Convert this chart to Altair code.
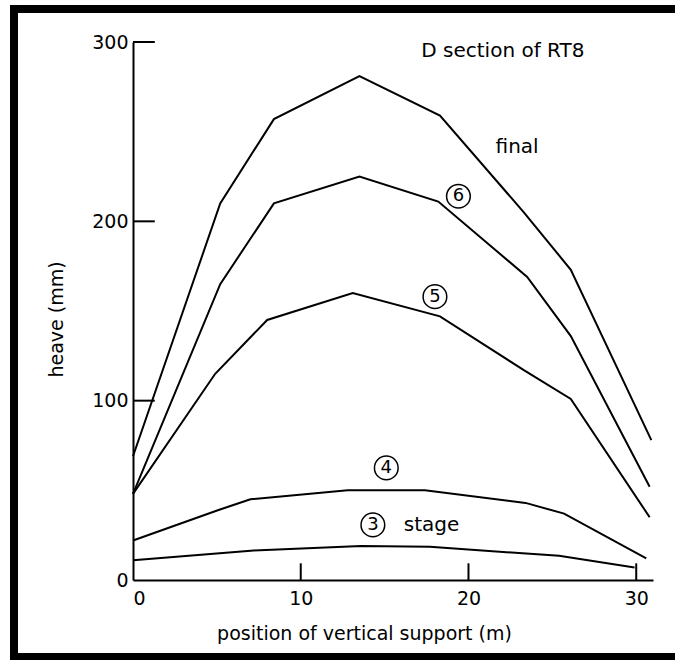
import altair as alt
import pandas as pd

# positions (m) and heave (mm) for each stage
x_final = [0.0, 5.2, 8.4, 13.5, 18.3, 23.3, 26.1, 30.9]
y_final = [69, 210, 257, 281, 259, 205, 173, 78]
x_s6 = [0.0, 5.2, 8.4, 13.5, 18.2, 23.5, 26.1, 30.8]
y_s6 = [48, 165, 210, 225, 211, 169, 136, 52]
x_s5 = [0.0, 4.9, 8.0, 13.1, 18.3, 23.3, 26.1, 30.8]
y_s5 = [48, 115, 145, 160, 147, 117, 101, 35]
x_s4 = [0.0, 5.1, 7.0, 12.8, 17.4, 23.4, 25.7, 30.6]
y_s4 = [22, 39, 45, 50, 50, 43, 37, 12]
x_s3 = [0.0, 7.2, 13.6, 17.7, 25.4, 29.9]
y_s3 = [11, 16.5, 19, 18.5, 13.5, 7]

series = [("final", x_final, y_final), ("6", x_s6, y_s6), ("5", x_s5, y_s5),
          ("4", x_s4, y_s4), ("3", x_s3, y_s3)]
rows = []
for name, xs, ys in series:
    for i, (a, b) in enumerate(zip(xs, ys)):
        rows.append({"stage": name, "pos": a, "heave": b, "order": i})
df = pd.DataFrame(rows)

# circled stage labels
circ_x = [19.4, 18.0, 15.1, 14.3]
circ_y = [214, 158, 62.5, 30.7]
circ_t = ["6", "5", "4", "3"]
circ_df = pd.DataFrame({"x": circ_x, "y": circ_y, "t": circ_t})

# plain text labels
lab_x = [22.05, 22.9, 17.8]
lab_y = [295, 241.5, 30.7]
lab_t = ["D section of RT8", "final", "stage"]
lab_df = pd.DataFrame({"x": lab_x, "y": lab_y, "t": lab_t})

# inside ticks
ytick_vals = [100, 200, 300]
xtick_vals = [10, 20, 30]
ytick_df = pd.DataFrame({"y": ytick_vals, "x0": [0] * 3, "x1": [1.3] * 3})
xtick_df = pd.DataFrame({"x": xtick_vals, "y0": [0] * 3, "y1": [9.3] * 3})

FONT = "DejaVu Sans"
xscale = alt.Scale(domain=[0, 31], nice=False)
yscale = alt.Scale(domain=[0, 300], nice=False)

lines = alt.Chart(df).mark_line(color="black", strokeWidth=2).encode(
    x=alt.X("pos:Q", scale=xscale,
            axis=alt.Axis(title="position of vertical support (m)", values=[0, 10, 20, 30],
                          ticks=False, grid=False, domainColor="black", domainWidth=2,
                          labelFont=FONT, labelFontSize=19, labelColor="black", labelPadding=9,
                          titleFont=FONT, titleFontSize=19, titleFontWeight="normal",
                          titleColor="black", titleX=231, titleY=53, titleBaseline="middle")),
    y=alt.Y("heave:Q", scale=yscale,
            axis=alt.Axis(title="heave (mm)", values=[0, 100, 200, 300], ticks=False, grid=False,
                          domainColor="black", domainWidth=2,
                          labelFont=FONT, labelFontSize=19, labelColor="black", labelPadding=5,
                          titleFont=FONT, titleFontSize=19, titleFontWeight="normal",
                          titleColor="black", titleX=-77, titleY=277, titleBaseline="middle",
                          titleAlign="center")),
    detail="stage:N",
    order="order:Q",
)

yticks = alt.Chart(ytick_df).mark_rule(color="black", strokeWidth=2).encode(
    x=alt.X("x0:Q", scale=xscale), x2="x1:Q", y=alt.Y("y:Q", scale=yscale))
xticks = alt.Chart(xtick_df).mark_rule(color="black", strokeWidth=2).encode(
    x=alt.X("x:Q", scale=xscale), y=alt.Y("y0:Q", scale=yscale), y2="y1:Q")

circles = alt.Chart(circ_df).mark_point(shape="circle", filled=False, color="black",
                                        size=560, strokeWidth=1.5, opacity=1).encode(
    x=alt.X("x:Q", scale=xscale), y=alt.Y("y:Q", scale=yscale))
circ_text = alt.Chart(circ_df).mark_text(font=FONT, fontSize=18, color="black").encode(
    x=alt.X("x:Q", scale=xscale), y=alt.Y("y:Q", scale=yscale), text="t:N")
labels = alt.Chart(lab_df).mark_text(font=FONT, fontSize=20, color="black").encode(
    x=alt.X("x:Q", scale=xscale), y=alt.Y("y:Q", scale=yscale), text="t:N")

frame = alt.Chart(pd.DataFrame({"a": [0]})).mark_rect(
    fill=None, stroke="black", strokeWidth=8).encode(
    x=alt.value(-119), x2=alt.value(560), y=alt.value(-33), y2=alt.value(615))

chart = alt.layer(frame, lines, yticks, xticks, circles, circ_text, labels).properties(
    width=520, height=538,
    autosize=alt.AutoSizeParams(type="none"),
    padding={"left": 133, "top": 42, "right": 22, "bottom": 80},
    background="white",
).configure_view(stroke=None)

chart.save("out.html", embed_options={"renderer": "svg", "actions": False})
